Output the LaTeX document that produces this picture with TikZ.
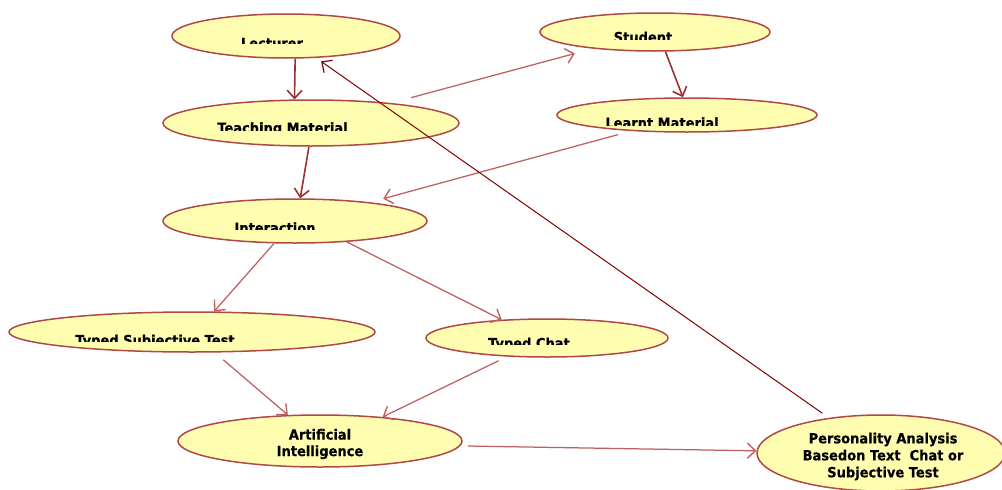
\documentclass[tikz,border=0pt]{standalone}
\usepackage{fontspec}
\usetikzlibrary{shapes.geometric,arrows.meta}
\newfontfamily\lblfont{DejaVu Sans}[FakeStretch=0.93,FakeBold=0.4]
\definecolor{ellfill}{HTML}{FFFDB0}
\definecolor{ellborder}{HTML}{B04848}
\definecolor{arrdarkc}{HTML}{993333}
\definecolor{arrlightc}{HTML}{BF6060}
\definecolor{arrbackc}{HTML}{800000}
\tikzset{
  ell/.style={ellipse, draw=ellborder, fill=ellfill, line width=1.5pt, inner sep=0pt},
  lbl/.style={font={\lblfont\bfseries\fontsize{14}{17}\selectfont}, inner sep=0pt, anchor=base},
  mlbl/.style={font={\lblfont\bfseries\fontsize{14}{17}\selectfont}, inner sep=0pt, align=center, anchor=center},
  arrlight/.style={draw=arrlightc, line width=1.25pt, -{Straight Barb[length=8pt,width=15pt,line width=1.4pt]}},
  arrdark/.style={draw=arrdarkc, line width=1.6pt, -{Straight Barb[length=8pt,width=15pt,line width=1.6pt]}},
  arrback/.style={draw=arrbackc, line width=1pt, -{Straight Barb[length=8pt,width=15pt,line width=1.2pt]}},
}
\begin{document}
\begin{tikzpicture}[x=1pt,y=-1pt]
\clip (0,0) rectangle (1002,490);
\fill[white] (0,0) rectangle (1002,490);
% ellipses
\node[ell, minimum width=228pt, minimum height=44pt] (L) at (286,36) {};
\node[ell, minimum width=296pt, minimum height=46pt] (T) at (311,123) {};
\node[ell, minimum width=230pt, minimum height=38pt] (S) at (655,32) {};
\node[ell, minimum width=260pt, minimum height=34pt] (M) at (687,115) {};
\node[ell, minimum width=264pt, minimum height=44pt] (I) at (295,221) {};
\node[ell, minimum width=366pt, minimum height=40pt] (TS) at (192,332) {};
\node[ell, minimum width=242pt, minimum height=38pt] (TC) at (547,338) {};
\node[ell, minimum width=284pt, minimum height=52pt] (AI) at (320,441) {};
\node[ell, minimum width=248pt, minimum height=76pt] (P) at (881,453) {};
% labels (clipped as in the original)
\begin{scope}
  \clip (150,0) rectangle (420,43.5);
  \node[lbl] (Ltxt) at (272,48.2) {Lecturer};
\end{scope}
\begin{scope}
  \clip (150,100) rectangle (460,130.7);
  \node[lbl] (Ttxt) at (282.5,132.9) {Teaching Material};
\end{scope}
\begin{scope}
  \clip (540,10) rectangle (770,39.5);
  \node[lbl] (Stxt) at (643,42.2) {Student};
\end{scope}
\begin{scope}
  \clip (560,95) rectangle (815,125);
  \node[lbl] (Mtxt) at (662,127.9) {Learnt Material};
\end{scope}
\begin{scope}
  \clip (165,195) rectangle (425,229.3);
  \node[lbl] (Itxt) at (275,232.9) {Interaction};
\end{scope}
\begin{scope}
  \clip (10,310) rectangle (375,341.7);
  \node[lbl] (TStxt) at (155,345.2) {Typed Subjective Test};
\end{scope}
\begin{scope}
  \clip (430,318) rectangle (665,344.7);
  \node[lbl] (TCtxt) at (529,348.2) {Typed Chat};
\end{scope}
\node[mlbl, font={\lblfont\bfseries\fontsize{14}{16.5}\selectfont}] (AItxt) at (320,444) {Artificial\\Intelligence};
\node[mlbl] (Ptxt) at (883,456.5) {Personality Analysis\\Basedon Text\ \ Chat or\\Subjective Test};
% connectors
\draw[arrdark] (L.-68) -- (T.125);
\draw[arrlight, shorten <=20.7pt, shorten >=18.6pt] (T.14.5) -- (S.195.1);
\draw[arrdark] (S.-62.2) -- (M.103.2);
\draw[arrdark] (T.-95) -- (I.77.2);
\draw[arrlight, shorten <=13.5pt, shorten >=13.5pt] (M.196) -- (I.14.4);
\draw[arrlight] (I.227.7) -- (TS.43.6);
\draw[arrlight] (I.-22.2) -- (TC.158.1);
\draw[arrlight, shorten <=11.1pt] (TS.-42.6) -- (AI.141.1);
\draw[arrlight, shorten <=9.4pt] (TC.205.2) -- (AI.21.5);
\draw[arrlight, shorten <=7.5pt] (AI.-2) -- (P.179);
\draw[arrback, shorten <=7.8pt, shorten >=6pt] (P.146.2) -- (L.-36.2);
\end{tikzpicture}
\end{document}
